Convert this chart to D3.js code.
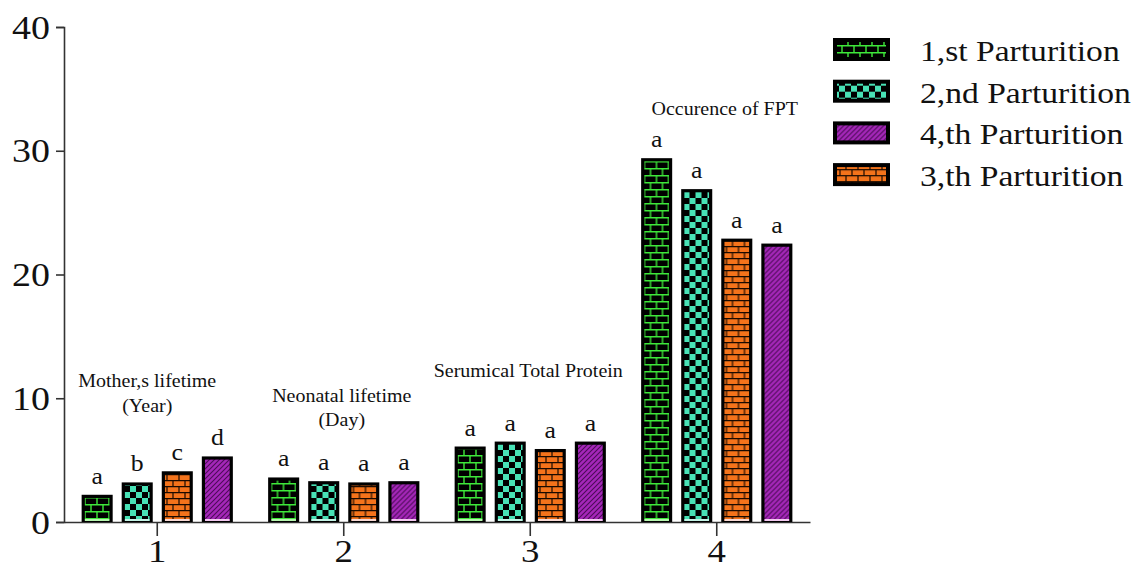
<!DOCTYPE html>
<html>
<head>
<meta charset="utf-8">
<script src="https://cdn.jsdelivr.net/npm/d3@7/dist/d3.min.js"></script>
<style>
  html, body { margin: 0; padding: 0; background: #fff; }
  svg { display: block; }
  text { font-family: "Liberation Serif", serif; fill: #111; }
</style>
</head>
<body>
<svg id="chart" width="1143" height="579"></svg>
<script>
// Group categories along the x axis and the text printed above each group
const categories = ["1", "2", "3", "4"];
const groupTitles = [
  ["Mother,s lifetime", "(Year)"],
  ["Neonatal lifetime", "(Day)"],
  ["Serumical Total Protein"],
  ["Occurence of FPT"]
];

// Series (bar order inside each group)
const seriesKeys = ["1st", "2nd", "3rd", "4th"];
const seriesNames = {
  "1st": "1,st Parturition",
  "2nd": "2,nd Parturition",
  "3rd": "3,th Parturition",
  "4th": "4,th Parturition"
};
const legendOrder = ["1st", "2nd", "4th", "3rd"];

// Values per series, one per category
const values1st = [2.2, 3.6, 6.1, 29.4];
const values2nd = [3.2, 3.3, 6.5, 26.9];
const values3rd = [4.1, 3.2, 5.9, 22.9];
const values4th = [5.3, 3.3, 6.5, 22.5];

// Significance letters per series, one per category
const letters1st = ["a", "a", "a", "a"];
const letters2nd = ["b", "a", "a", "a"];
const letters3rd = ["c", "a", "a", "a"];
const letters4th = ["d", "a", "a", "a"];

const yTicks = [0, 10, 20, 30, 40];

const seriesValues = { "1st": values1st, "2nd": values2nd, "3rd": values3rd, "4th": values4th };
const seriesLetters = { "1st": letters1st, "2nd": letters2nd, "3rd": letters3rd, "4th": letters4th };

const svg = d3.select("#chart");
const SX = 1.12; // horizontal stretch of the serif lettering

// ---------- fill patterns ----------
const defs = svg.append("defs");

// green bricks drawn as lines on black
const pGreen = defs.append("pattern").attr("id", "pat-1st")
  .attr("patternUnits", "userSpaceOnUse").attr("width", 12).attr("height", 14);
pGreen.append("rect").attr("width", 12).attr("height", 14).attr("fill", "#000");
pGreen.append("path")
  .attr("d", "M0,0.7H12 M0,7.7H12 M3,0.7V7.7 M9,7.7V14")
  .attr("stroke", "#3ee83a").attr("stroke-width", 1.4).attr("fill", "none");

// teal checkerboard on black
const pTeal = defs.append("pattern").attr("id", "pat-2nd")
  .attr("patternUnits", "userSpaceOnUse").attr("width", 12).attr("height", 12);
pTeal.append("rect").attr("width", 12).attr("height", 12).attr("fill", "#000");
pTeal.append("rect").attr("x", 0).attr("y", 0).attr("width", 6).attr("height", 6).attr("fill", "#48e2b6");
pTeal.append("rect").attr("x", 6).attr("y", 6).attr("width", 6).attr("height", 6).attr("fill", "#48e2b6");

// orange bricks with black mortar
const pOrange = defs.append("pattern").attr("id", "pat-3rd")
  .attr("patternUnits", "userSpaceOnUse").attr("width", 12).attr("height", 12);
pOrange.append("rect").attr("width", 12).attr("height", 12).attr("fill", "#f4731b");
pOrange.append("path")
  .attr("d", "M0,0.6H12 M0,6.6H12 M1,0.6V6.6 M7,6.6V12")
  .attr("stroke", "#1a0a00").attr("stroke-width", 1.2).attr("fill", "none");

// purple with dark diagonal hatching
const pPurple = defs.append("pattern").attr("id", "pat-4th")
  .attr("patternUnits", "userSpaceOnUse").attr("width", 5).attr("height", 5);
pPurple.append("rect").attr("width", 5).attr("height", 5).attr("fill", "#a527b9");
pPurple.append("path")
  .attr("d", "M-1,6 L6,-1 M-1,1 L1,-1 M4,6 L6,4")
  .attr("stroke", "#4c0a58").attr("stroke-width", 1.1).attr("fill", "none");

const paleStrip = { "1st": "#b8f5b0", "2nd": "#c5f3e6", "3rd": "#f7d9d4", "4th": "#f2c9ef" };

// ---------- scales ----------
const x0 = d3.scaleBand().domain(categories).range([64, 810]).padding(0);
const x1 = d3.scaleBand().domain(seriesKeys).range([0, x0.bandwidth()])
  .paddingInner(0.225).paddingOuter(0.44);
const y = d3.scaleLinear().domain([0, 40]).range([522, 27]);

// ---------- axes ----------
const yAxis = d3.axisLeft(y).tickValues(yTicks).tickSize(8).tickPadding(6).tickFormat(d3.format("d"));
const gy = svg.append("g").attr("transform", "translate(64,0)").call(yAxis);
gy.select(".domain").attr("stroke", "#333").attr("stroke-width", 1.6);
gy.selectAll(".tick line").attr("stroke", "#333").attr("stroke-width", 1.6);
gy.selectAll(".tick text")
  .attr("font-size", 33).attr("fill", "#111")
  .attr("transform", "scale(1.15,1)")
  .attr("x", -14 / 1.15).attr("dy", "0.34em");

const xAxis = d3.axisBottom(x0).tickSize(14).tickSizeOuter(0).tickPadding(2);
const gx = svg.append("g").attr("transform", "translate(0,522)").call(xAxis);
gx.select(".domain").attr("stroke", "#333").attr("stroke-width", 1.6);
gx.selectAll(".tick line").attr("stroke", "#333").attr("stroke-width", 1.6);
gx.selectAll(".tick text")
  .attr("font-size", 32).attr("fill", "#111")
  .attr("transform", "scale(1.15,1)")
  .attr("y", 17).attr("dy", "0.71em");

// ---------- bars ----------
const border = 3.2;
const groups = svg.append("g").selectAll("g.group")
  .data(categories)
  .join("g").attr("class", "group")
  .attr("transform", d => `translate(${x0(d)},0)`);

const bars = groups.selectAll("g.bar")
  .data((c, i) => seriesKeys.map(k => ({ key: k, value: seriesValues[k][i], letter: seriesLetters[k][i] })))
  .join("g").attr("class", "bar");

bars.append("rect")
  .attr("x", d => x1(d.key)).attr("y", d => y(d.value))
  .attr("width", x1.bandwidth()).attr("height", d => y(0) - y(d.value))
  .attr("fill", "#000");
bars.append("rect")
  .attr("x", d => x1(d.key) + border).attr("y", d => y(d.value) + border)
  .attr("width", x1.bandwidth() - 2 * border)
  .attr("height", d => Math.max(0, y(0) - y(d.value) - border - 1))
  .attr("fill", d => `url(#pat-${d.key})`);
bars.append("rect")
  .attr("x", d => x1(d.key) + border).attr("y", y(0) - 3)
  .attr("width", x1.bandwidth() - 2 * border).attr("height", 2)
  .attr("fill", d => paleStrip[d.key]);

bars.append("text")
  .attr("transform", d => `translate(${x1(d.key) + x1.bandwidth() / 2},${y(d.value) - 11}) scale(${SX},1)`)
  .attr("text-anchor", "middle")
  .attr("font-size", 23)
  .text(d => d.letter);

// ---------- group titles ----------
const titleLayout = [
  { dx: -10, y: 387, lh: 25 },
  { dx: -2, y: 402, lh: 24 },
  { dx: -2, y: 377, lh: 24 },
  { dx: 8, y: 115, lh: 24 }
];
categories.forEach((c, i) => {
  const cx = x0(c) + x0.bandwidth() / 2 + titleLayout[i].dx;
  groupTitles[i].forEach((line, j) => {
    svg.append("text")
      .attr("transform", `translate(${cx},${titleLayout[i].y + j * titleLayout[i].lh}) scale(1.08,1)`)
      .attr("text-anchor", "middle")
      .attr("font-size", 18.5)
      .text(line);
  });
});

// ---------- legend ----------
const legend = svg.append("g").attr("transform", "translate(833,38)");
const item = legend.selectAll("g.item").data(legendOrder)
  .join("g").attr("class", "item")
  .attr("transform", (d, i) => `translate(0,${i * 41.7})`);
item.append("rect").attr("width", 57).attr("height", 23).attr("fill", "#000");
item.append("rect").attr("x", 4).attr("y", 4).attr("width", 49).attr("height", 15)
  .attr("fill", d => `url(#pat-${d})`);
item.append("text")
  .attr("transform", `translate(87,23) scale(${SX},1)`)
  .attr("font-size", 30)
  .text(d => seriesNames[d]);
</script>
</body>
</html>
